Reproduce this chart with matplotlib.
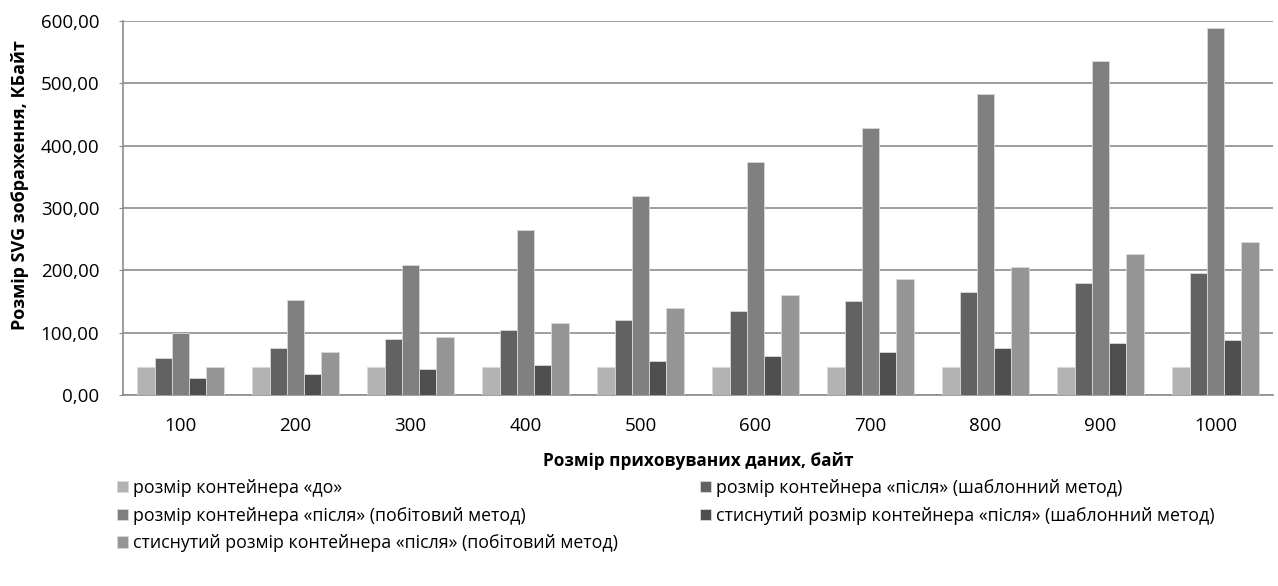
import numpy as np
import matplotlib.pyplot as plt
from matplotlib.ticker import FuncFormatter

plt.rcParams['font.family'] = ['Open Sans', 'DejaVu Sans']

# hidden data size, bytes
sizes = ["100", "200", "300", "400", "500", "600", "700", "800", "900", "1000"]

before = [45, 45, 45, 45, 45, 45, 45, 45, 45, 45]
after_template = [60, 75, 90, 105, 120, 135, 150, 165, 180, 195]
after_bitwise = [99, 153, 208, 264, 319, 374, 429, 483, 536, 589]
zip_template = [27, 34, 41, 48, 55, 62, 69, 76, 83, 89]
zip_bitwise = [45, 69, 93, 116, 139, 161, 186, 206, 226, 245]

labels = [
    "розмір контейнера «до»",
    "розмір контейнера «після» (шаблонний метод)",
    "розмір контейнера «після» (побітовий метод)",
    "стиснутий розмір контейнера «після» (шаблонний метод)",
    "стиснутий розмір контейнера «після» (побітовий метод)",
]
series = [before, after_template, after_bitwise, zip_template, zip_bitwise]
colors = ["#b3b3b3", "#626262", "#808080", "#4f4f4f", "#959595"]

fig = plt.figure(figsize=(12.78, 5.86), dpi=100)
ax = fig.add_axes([0.0962, 0.326, 0.8998, 0.638])

x = np.arange(len(sizes))
width = 0.15
bars = []
for i, (vals, col) in enumerate(zip(series, colors)):
    b = ax.bar(x + (i - 2) * width, vals, width, color=col,
               edgecolor="#d9d9d9", linewidth=0.6, zorder=3)
    bars.append(b)

ax.set_xlim(-0.5, len(sizes) - 0.5)
ax.set_ylim(0, 600)
ax.set_yticks(np.arange(0, 601, 100))
ax.yaxis.set_major_formatter(FuncFormatter(lambda v, p: f"{v:.2f}".replace(".", ",")))
ax.set_xticks(x)
ax.set_xticklabels(sizes)
ax.tick_params(axis="y", length=3, color="#8c8c8c", labelsize=13.5, pad=14)
ax.tick_params(axis="x", length=0, labelsize=13.5, pad=16)
ax.grid(axis="y", color="#8c8c8c", linewidth=1.2, zorder=0)

for s in ("top", "right"):
    ax.spines[s].set_visible(False)
for s in ("left", "bottom"):
    ax.spines[s].set_color("#8c8c8c")
    ax.spines[s].set_linewidth(1.2)

ax.set_xlabel("Розмір приховуваних даних, байт", fontsize=12.4, fontweight="bold", labelpad=12)
ax.set_ylabel("Розмір SVG зображення, КБайт", fontsize=13, fontweight="bold")
ax.yaxis.set_label_coords(-0.082, 0.56)

# legend in two columns
leg_kw = dict(loc="upper left", frameon=False, fontsize=12.8, handlelength=0.6,
              handleheight=0.6, handletextpad=0.3, labelspacing=0.55, borderaxespad=0)
fig.legend([bars[0], bars[2], bars[4]], [labels[0], labels[2], labels[4]],
           bbox_to_anchor=(0.086, 0.195), **leg_kw)
fig.legend([bars[1], bars[3]], [labels[1], labels[3]],
           bbox_to_anchor=(0.5425, 0.195), **leg_kw)

fig.savefig("out.png", dpi=100)
